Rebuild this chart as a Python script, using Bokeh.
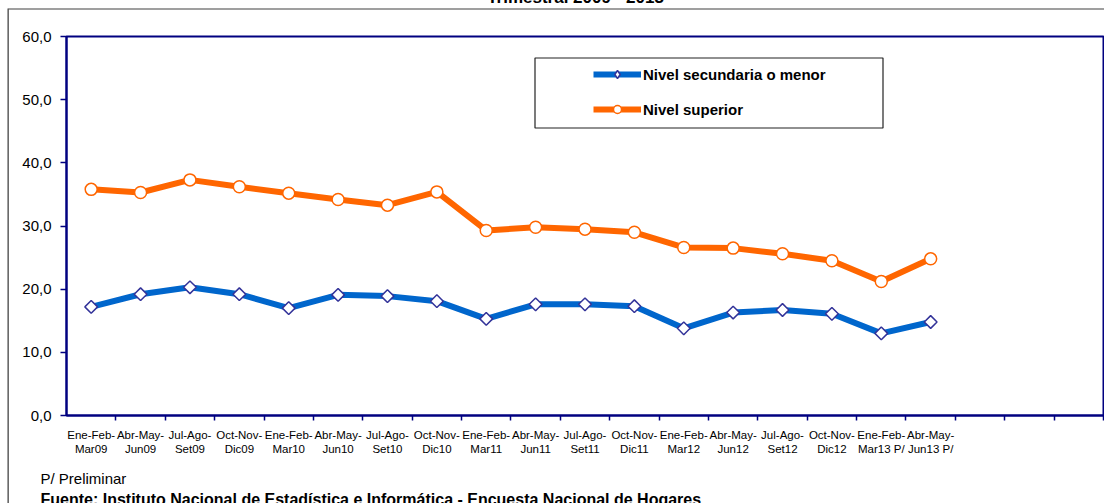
import math
from bokeh.plotting import figure
from bokeh.models import (Range1d, FixedTicker, Legend, LegendItem, Label,
                          BoxAnnotation)
from bokeh.embed import file_html
from bokeh.resources import INLINE

# ---------------- data ----------------
categories = [
    "Ene-Feb-\nMar09", "Abr-May-\nJun09", "Jul-Ago-\nSet09", "Oct-Nov-\nDic09",
    "Ene-Feb-\nMar10", "Abr-May-\nJun10", "Jul-Ago-\nSet10", "Oct-Nov-\nDic10",
    "Ene-Feb-\nMar11", "Abr-May-\nJun11", "Jul-Ago-\nSet11", "Oct-Nov-\nDic11",
    "Ene-Feb-\nMar12", "Abr-May-\nJun12", "Jul-Ago-\nSet12", "Oct-Nov-\nDic12",
    "Ene-Feb-\nMar13 P/", "Abr-May-\nJun13 P/",
]
n_slots = 21  # category slots on the axis (last three empty)

secundaria = [17.2, 19.2, 20.3, 19.2, 17.0, 19.1, 18.9, 18.1, 15.3, 17.6,
              17.6, 17.3, 13.8, 16.3, 16.7, 16.1, 13.0, 14.8]
superior = [35.8, 35.3, 37.3, 36.2, 35.2, 34.2, 33.3, 35.4, 29.3, 29.8,
            29.5, 29.0, 26.6, 26.5, 25.6, 24.5, 21.2, 24.8]

series_names = ["Nivel secundaria o menor", "Nivel superior"]
y_ticks = [0, 10, 20, 30, 40, 50, 60]
y_tick_labels = ["0,0", "10,0", "20,0", "30,0", "40,0", "50,0", "60,0"]
title_text = "Trimestral 2009 - 2013"
note_text = "P/ Preliminar"
source_text = ("Fuente: Instituto Nacional de Estadística e Informática - "
               "Encuesta Nacional de Hogares")

# ---------------- figure ----------------
W, H = 1104, 503
NAVY = "#000080"
BLUE = "#0066CC"
ORANGE = "#FF6600"
MARK = "#333399"
FRAME_GREY = "#404040"
FONT = "Liberation Sans"

p = figure(width=W, height=H, output_backend="svg", toolbar_location=None,
           x_range=Range1d(0, n_slots), y_range=Range1d(0, 60),
           min_border_left=66, min_border_right=1, min_border_top=36,
           min_border_bottom=88)
p.background_fill_color = "white"
p.border_fill_color = "white"
p.outline_line_color = NAVY
p.outline_line_width = 2
p.xgrid.visible = False
p.ygrid.visible = False

xs = [i + 0.5 for i in range(len(categories))]

# y axis
ya = p.yaxis[0]
ya.ticker = FixedTicker(ticks=y_ticks)
ya.major_label_overrides = {t: l for t, l in zip(y_ticks, y_tick_labels)}
ya.axis_line_color = NAVY
ya.axis_line_width = 2
ya.major_tick_line_color = NAVY
ya.major_tick_line_width = 1.5
ya.major_tick_out = 6
ya.major_tick_in = 0
ya.minor_tick_out = 0
ya.minor_tick_in = 0
ya.major_label_text_font = FONT
ya.major_label_text_font_size = "15px"
ya.major_label_text_color = "black"
ya.major_label_standoff = 9

# x axis
xa = p.xaxis[0]
xa.ticker = FixedTicker(ticks=xs, minor_ticks=list(range(1, n_slots + 1)))
xa.major_label_overrides = {x: c for x, c in zip(xs, categories)}
xa.axis_line_color = NAVY
xa.axis_line_width = 2
xa.major_tick_out = 0
xa.major_tick_in = 0
xa.minor_tick_line_color = NAVY
xa.minor_tick_line_width = 1.5
xa.minor_tick_out = 5
xa.minor_tick_in = 0
xa.major_label_text_font = FONT
xa.major_label_text_font_size = "11.5px"
xa.major_label_text_color = "black"
xa.major_label_text_line_height = 1.2
xa.major_label_standoff = 8
xa.major_label_orientation = "horizontal"

# legend box (canvas pixels, y downward)
p.add_layout(BoxAnnotation(left=534.5, right=882.5, top=57.5, bottom=127.5,
                           left_units="canvas", right_units="canvas",
                           top_units="canvas", bottom_units="canvas",
                           fill_color="white", fill_alpha=1.0,
                           line_color="#222222", line_alpha=1.0,
                           line_width=1.2, level="underlay"))

# series lines
l1 = p.line(xs, secundaria, line_color=BLUE, line_width=6, line_join="round")
l2 = p.line(xs, superior, line_color=ORANGE, line_width=6, line_join="round")

# legend marker glyphs (hidden beneath the chart markers)
d1 = p.scatter(xs, secundaria, marker="diamond", size=11, fill_color="white",
               line_color=MARK, line_width=1.5)
d2 = p.scatter(xs, superior, marker="circle", size=10, fill_color="white",
               line_color=ORANGE, line_width=1.5)

# chart markers
s1 = p.scatter(xs, secundaria, marker="square", angle=math.pi / 4, size=9,
               fill_color="white", line_color=MARK, line_width=1.5)
s2 = p.scatter(xs, superior, marker="circle", size=12,
               fill_color="white", line_color=ORANGE, line_width=1.5)

legend = Legend(items=[LegendItem(label=series_names[0], renderers=[l1, d1]),
                       LegendItem(label=series_names[1], renderers=[l2, d2])],
                location=(527, 296), padding=0, margin=0, spacing=15,
                glyph_width=48, glyph_height=20, label_height=20,
                label_standoff=2, border_line_alpha=0,
                background_fill_alpha=0,
                label_text_font=FONT, label_text_font_style="bold",
                label_text_font_size="15px", label_text_color="black")
p.add_layout(legend)

# outer frame of the whole chart: thin filled label boxes (top and left edge)
p.add_layout(Label(x=8, y=8, x_units="canvas", y_units="canvas", text=" ",
                   text_align="left", text_baseline="top",
                   text_font=FONT, text_font_size="1px",
                   padding=(1, 1300, 0, 0), border_line_alpha=0,
                   background_fill_color=FRAME_GREY,
                   background_fill_alpha=1.0), "above")
p.add_layout(Label(x=7, y=8, x_units="canvas", y_units="canvas", text=" ",
                   text_align="left", text_baseline="top",
                   text_font=FONT, text_font_size="1px",
                   padding=(0, 1, 700, 1), border_line_alpha=0,
                   background_fill_color=FRAME_GREY,
                   background_fill_alpha=1.0), "left")

# texts (canvas pixels, y downward), in side panels
p.add_layout(Label(x=575, y=-3, x_units="canvas", y_units="canvas",
                   text=title_text, text_align="center",
                   text_baseline="alphabetic", text_font=FONT,
                   text_font_style="bold", text_font_size="17px",
                   text_color="black"), "above")
p.add_layout(Label(x=40, y=478, x_units="canvas", y_units="canvas",
                   text=note_text, text_baseline="alphabetic",
                   text_font=FONT, text_font_size="15px",
                   text_color="black"), "below")
p.add_layout(Label(x=40, y=499, x_units="canvas", y_units="canvas",
                   text=source_text, text_baseline="alphabetic",
                   text_font=FONT, text_font_style="bold",
                   text_font_size="16px", text_color="black"), "below")

open("out.html", "w").write(file_html(p, INLINE))
